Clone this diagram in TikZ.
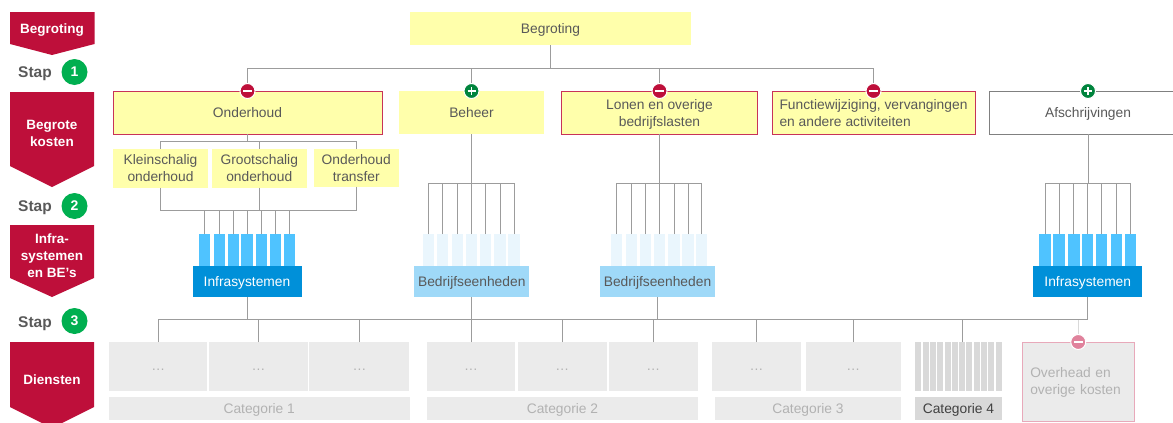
\documentclass[tikz,border=0pt]{standalone}
\usepackage{fontspec}
\setmainfont{Liberation Sans}
\usetikzlibrary{positioning}
\definecolor{stapred}{HTML}{BE0F3A}
\definecolor{stapgreen}{HTML}{00AF50}
\definecolor{plusgreen}{HTML}{00843D}
\definecolor{boxyellow}{HTML}{FFFFAB}
\definecolor{boxtext}{HTML}{595959}
\definecolor{conngray}{HTML}{9C9C9C}
\definecolor{barblue}{HTML}{4FC3FF}
\definecolor{barpale}{HTML}{EAF6FD}
\definecolor{infrablue}{HTML}{0090D9}
\definecolor{bedrijfblue}{HTML}{9FD9F8}
\definecolor{dienstgray}{HTML}{EBEBEB}
\definecolor{dienstdark}{HTML}{D9D9D9}
\definecolor{diensttext}{HTML}{B2B2B2}
\definecolor{overheadpink}{HTML}{E8A9BA}
\definecolor{minuspale}{HTML}{E0829C}
\tikzset{
boxfont/.style={font=\fontsize{13.8}{17}\selectfont},
stapbox/.style={text=white,align=center,text depth=0pt,font=\fontsize{13.5}{17}\selectfont\bfseries},
stapword/.style={text=boxtext,text depth=0pt,font=\fontsize{15.5}{17}\selectfont\bfseries},
stapnum/.style={circle,fill=stapgreen,text=white,minimum size=26pt,inner sep=0pt,font=\fontsize{14}{17}\selectfont\bfseries},
plain/.style={boxfont,rectangle,inner sep=0pt,outer sep=0pt,align=center,text=boxtext,text depth=0pt},
yellowbox/.style={plain,fill=boxyellow},
redbox/.style={yellowbox,draw=stapred!85!white,line width=1pt},
kostenwhite/.style={plain,fill=white,draw=gray,line width=1pt},
bluebar/.style={plain,fill=barblue,minimum width=11.5pt,minimum height=31.5pt},
palebar/.style={plain,fill=barpale,minimum width=11.5pt,minimum height=31.5pt},
infrabox/.style={plain,fill=infrablue,text=white,minimum width=109pt,minimum height=31pt},
bedrijfbox/.style={plain,fill=bedrijfblue,minimum width=115pt,minimum height=31pt},
dienst/.style={plain,fill=dienstgray,text=diensttext,minimum height=49pt,text height=7pt},
catbar/.style={plain,fill=dienstgray,text=diensttext,minimum height=23pt},
stripe/.style={plain,fill=dienstdark,minimum width=6pt,minimum height=49pt},
conn/.style={draw=conngray,line width=1pt},
minusmark/.style={circle,fill=stapred,draw=white,line width=1pt,minimum size=15pt,inner sep=0pt,
  path picture={\draw[white,line width=1.6pt] ([xshift=-4.5pt]path picture bounding box.center) -- ([xshift=4.5pt]path picture bounding box.center);}},
plusmark/.style={circle,fill=plusgreen,draw=white,line width=1pt,minimum size=15pt,inner sep=0pt,
  path picture={\draw[white,line width=1.6pt] ([xshift=-4pt]path picture bounding box.center) -- ([xshift=4pt]path picture bounding box.center)
  ([yshift=-4pt]path picture bounding box.center) -- ([yshift=4pt]path picture bounding box.center);}}
}
\begin{document}
\begin{tikzpicture}[x=1pt,y=-1pt]
\useasboundingbox (0,0) rectangle (1173,423);
% left column
\fill[stapred] (10,12) -- (94.5,12) -- (94.5,44) -- (52,55) -- (10,44) -- cycle;
\fill[stapred] (10,92) -- (94,92) -- (94,166) -- (52,187) -- (10,166) -- cycle;
\fill[stapred] (10,225) -- (94,225) -- (94,278) -- (52,297) -- (10,278) -- cycle;
\fill[stapred] (10,342) -- (94,342) -- (94,407) -- (62,423) -- (42,423) -- (10,407) -- cycle;
\node[stapbox] (labelbegroting) at (52,29) {Begroting};
\node[stapbox] (labelkosten) at (52,133) {Begrote\\kosten};
\node[stapbox] (labelinfra) at (52,256) {Infra-\\systemen\\en BE’s};
\node[stapbox] (labeldiensten) at (52,380) {Diensten};
\node[stapword] (stapone) at (35,72) {Stap};
\node[stapword] (staptwo) at (35,206) {Stap};
\node[stapword] (stapthree) at (35,322) {Stap};
\node[stapnum] (numone) at (74.5,72) {1};
\node[stapnum] (numtwo) at (74.5,206) {2};
\node[stapnum] (numthree) at (74.5,321) {3};
% begroting and kosten
\node[yellowbox,minimum width=281pt,minimum height=33pt] (begroting) at (550.5,28.5) {Begroting};
\node[redbox,minimum width=269pt,minimum height=43pt] (onderhoud) at (247.5,112.5) {Onderhoud};
\node[yellowbox,minimum width=145pt,minimum height=43pt] (beheer) at (471.5,112.5) {Beheer};
\node[redbox,minimum width=196pt,minimum height=43pt] (lonen) at (659.5,112.5) {Lonen en overige\\bedrijfslasten};
\node[redbox,minimum width=203pt,minimum height=43pt,align=left] (functie) at (873.5,112.5) {Functiewijziging, vervangingen\\en andere activiteiten};
\node[kostenwhite,minimum width=197pt,minimum height=43pt] (afschrijving) at (1088,112.5) {Afschrijvingen};
\node[yellowbox,minimum width=95pt,minimum height=39pt] (klein) at (160.5,168) {Kleinschalig\\onderhoud};
\node[yellowbox,minimum width=94.5pt,minimum height=39pt] (groot) at (259.25,168) {Grootschalig\\onderhoud};
\node[yellowbox,minimum width=85.5pt,minimum height=37.5pt] (transfer) at (356.25,167.75) {Onderhoud\\transfer};
% systemen
\node[infrabox] (infraleft) at (247,281.5) {Infrasystemen};
\node[bedrijfbox] (bedrijfleft) at (471.75,281.5) {Bedrijfseenheden};
\node[bedrijfbox] (bedrijfright) at (657.5,281.5) {Bedrijfseenheden};
\node[infrabox] (infraright) at (1087.75,281.5) {Infrasystemen};
% connectors to kosten
\coordinate (topbus) at (550.5,68);
\coordinate (subbus) at (247.5,141.5);
\coordinate (infrahub) at (247,210.5);
\draw[conn] (begroting.south) -- (topbus);
\draw[conn] (topbus) -| (onderhoud.north);
\draw[conn] (topbus) -| (beheer.north);
\draw[conn] (topbus) -| (lonen.north);
\draw[conn] (topbus) -| (functie.north);
\draw[conn] (onderhoud.south) -- (subbus);
\draw[conn] (klein.north) |- (subbus);
\draw[conn] (groot.north) |- (subbus);
\draw[conn] (transfer.north) |- (subbus);
\draw[conn] (klein.south) |- (infrahub);
\draw[conn] (groot.south) |- (infrahub);
\draw[conn] (transfer.south) |- (infrahub);
% bars with their combs
\coordinate (beheerhub) at (471.5,183.5);
\coordinate (lonenhub) at (659.5,183.5);
\coordinate (afschrijfhub) at (1088,183.5);
\draw[conn] (beheer.south) -- (beheerhub);
\draw[conn] (lonen.south) -- (lonenhub);
\draw[conn] (afschrijving.south) -- (afschrijfhub);
\foreach \xx [count=\ii] in {204.5,219.5,233.5,247,261.5,275.5,289.5}{
\node[bluebar] (infrabar\ii) at (\xx,249.75) {};
\draw[conn] (infrabar\ii.north) |- (infrahub);
}
\foreach \xx [count=\ii] in {428.7,442.7,457.3,471.3,485.3,500,514}{
\node[palebar] (beheerbar\ii) at (\xx,249.75) {};
\draw[conn] (beheerbar\ii.north) |- (beheerhub);
}
\foreach \xx [count=\ii] in {616.7,631.3,645.3,659.3,674,688,701.7}{
\node[palebar] (lonenbar\ii) at (\xx,249.75) {};
\draw[conn] (lonenbar\ii.north) |- (lonenhub);
}
\foreach \xx [count=\ii] in {1045,1059,1073.8,1087.7,1101.7,1116.5,1130.3}{
\node[bluebar] (afschrijfbar\ii) at (\xx,249.75) {};
\draw[conn] (afschrijfbar\ii.north) |- (afschrijfhub);
}
% diensten
\node[dienst,minimum width=98pt] (dienstaa) at (158.25,366.5) {…};
\node[dienst,minimum width=99pt] (dienstab) at (258.5,366.5) {…};
\node[dienst,minimum width=100pt] (dienstac) at (359.4,366.5) {…};
\node[dienst,minimum width=88.5pt] (dienstba) at (471,366.5) {…};
\node[dienst,minimum width=88.5pt] (dienstbb) at (562.3,366.5) {…};
\node[dienst,minimum width=88.5pt] (dienstbc) at (653.3,366.5) {…};
\node[dienst,minimum width=88.5pt] (dienstca) at (756.5,366.5) {…};
\node[dienst,minimum width=95pt] (dienstcb) at (853.2,366.5) {…};
\node[catbar,minimum width=300.5pt] (cata) at (259.25,408.5) {Categorie 1};
\node[catbar,minimum width=271pt] (catb) at (562.5,408.5) {Categorie 2};
\node[catbar,minimum width=186pt] (catc) at (808,408.5) {Categorie 3};
\node[catbar,fill=dienstdark,text=black!75,minimum width=87pt] (catd) at (958.5,408.5) {Categorie 4};
\foreach \ii in {1,...,12}{
\node[stripe] (stripe\ii) at ({918.3+7.3*(\ii-1)},366.5) {};
}
\node[plain,fill=dienstgray,draw=overheadpink,line width=1pt,text=diensttext,minimum width=111.5pt,minimum height=79pt,text width=96pt,align=left,text depth=18pt] (overhead) at (1078.25,381.5) {Overhead en\\overige kosten};
% connectors to diensten
\coordinate (dienstbus) at (472,319.5);
\draw[conn,draw=dienstdark] (overhead.north) |- (dienstbus);
\draw[conn] (infraleft.south) |- (dienstbus);
\draw[conn] (bedrijfleft.south) |- (dienstbus);
\draw[conn] (bedrijfright.south) |- (dienstbus);
\draw[conn] (infraright.south) |- (dienstbus);
\draw[conn] (dienstaa.north) |- (dienstbus);
\draw[conn] (dienstab.north) |- (dienstbus);
\draw[conn] (dienstac.north) |- (dienstbus);
\draw[conn] (dienstba.north) |- (dienstbus);
\draw[conn] (dienstbb.north) |- (dienstbus);
\draw[conn] (dienstbc.north) |- (dienstbus);
\draw[conn] (dienstca.north) |- (dienstbus);
\draw[conn] (dienstcb.north) |- (dienstbus);
\draw[conn] (stripe7.north) |- (dienstbus);
% plus and minus marks
\node[minusmark] (markonderhoud) at (onderhoud.north) {};
\node[plusmark] (markbeheer) at (beheer.north) {};
\node[minusmark] (marklonen) at (lonen.north) {};
\node[minusmark] (markfunctie) at (functie.north) {};
\node[plusmark] (markafschrijving) at (afschrijving.north) {};
\node[minusmark,fill=minuspale] (markoverhead) at (overhead.north) {};
\end{tikzpicture}
\end{document}
